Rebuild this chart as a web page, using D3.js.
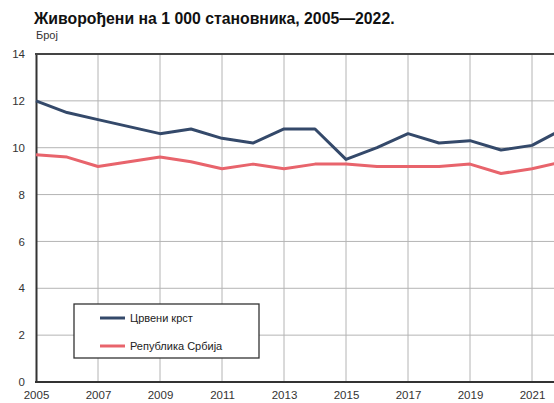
<!DOCTYPE html>
<html><head><meta charset="utf-8">
<script src="https://cdn.jsdelivr.net/npm/d3@7"></script>
<style>body{margin:0;background:#fff;}svg{display:block;font-family:"Liberation Sans",Arial,sans-serif;}</style>
</head><body>
<svg id="c" width="554" height="403"></svg>
<script>
const years = [2005,2006,2007,2008,2009,2010,2011,2012,2013,2014,2015,2016,2017,2018,2019,2020,2021,2022];
const redCross = [12.0,11.5,11.2,10.9,10.6,10.8,10.4,10.2,10.8,10.8,9.5,10.0,10.6,10.2,10.3,9.9,10.1,10.8];
const serbia = [9.7,9.6,9.2,9.4,9.6,9.4,9.1,9.3,9.1,9.3,9.3,9.2,9.2,9.2,9.3,8.9,9.1,9.4];
const yTicks = [0,2,4,6,8,10,12,14];
const xTicks = [2005,2007,2009,2011,2013,2015,2017,2019,2021];
const seriesNames = ["Црвени крст","Република Србија"];
const colors = ["#34496a","#e8646c"];

const svg = d3.select("#c");
const x = d3.scaleLinear().domain([2005,2022]).range([36,563]);
const y = d3.scaleLinear().domain([0,14]).range([382,54]);

svg.append("text").attr("x",34).attr("y",24).attr("font-size",15.8).attr("font-weight","bold").attr("fill","#111")
  .text("Живорођени на 1 000 становника, 2005\u20142022.");
svg.append("text").attr("x",36).attr("y",39).attr("font-size",11).attr("fill","#333").text("Број");

// grid
svg.append("g").selectAll("line").data(yTicks.filter(d=>d>0&&d<14)).join("line")
  .attr("x1",36).attr("x2",554).attr("y1",d=>y(d)).attr("y2",d=>y(d)).attr("stroke","#b4b4b4").attr("stroke-width",1);
svg.append("g").selectAll("line").data(xTicks.filter(d=>d>2005)).join("line")
  .attr("x1",d=>x(d)).attr("x2",d=>x(d)).attr("y1",54).attr("y2",382).attr("stroke","#b4b4b4").attr("stroke-width",1);

// axes
const yAxis = svg.append("g").attr("transform","translate(36,0)").call(d3.axisLeft(y).tickValues(yTicks).tickSize(0).tickPadding(11));
yAxis.select(".domain").attr("stroke","#333").attr("stroke-width",2);
yAxis.selectAll("text").attr("font-size",11.5).attr("fill","#333").attr("font-family","Liberation Sans, Arial, sans-serif");
const xAxis = svg.append("g").attr("transform","translate(0,382)").call(d3.axisBottom(x).tickValues(xTicks).tickFormat(d3.format("d")).tickSize(0).tickPadding(9));
xAxis.select(".domain").remove();
xAxis.selectAll("text").attr("font-size",11.5).attr("fill","#333").attr("font-family","Liberation Sans, Arial, sans-serif");
svg.append("line").attr("x1",35).attr("x2",554).attr("y1",382).attr("y2",382).attr("stroke","#333").attr("stroke-width",2);
svg.append("line").attr("x1",35).attr("x2",554).attr("y1",54).attr("y2",54).attr("stroke","#444").attr("stroke-width",2);

// lines
const line = d3.line().x((d,i)=>x(years[i])).y(d=>y(d));
[redCross, serbia].forEach((s,k)=>{
  svg.append("path").datum(s).attr("d",line).attr("fill","none").attr("stroke",colors[k]).attr("stroke-width",3).attr("stroke-linejoin","round");
});

// legend
const lg = svg.append("g");
lg.append("rect").attr("x",74).attr("y",304).attr("width",185).attr("height",54).attr("fill","#fff").attr("stroke","#333").attr("stroke-width",1.3);
seriesNames.forEach((n,k)=>{
  const yy = 318 + k*28;
  lg.append("line").attr("x1",100).attr("x2",125).attr("y1",yy).attr("y2",yy).attr("stroke",colors[k]).attr("stroke-width",3);
  lg.append("text").attr("x",130).attr("y",yy+4).attr("font-size",11).attr("fill","#222").text(n);
});
</script>
</body></html>
